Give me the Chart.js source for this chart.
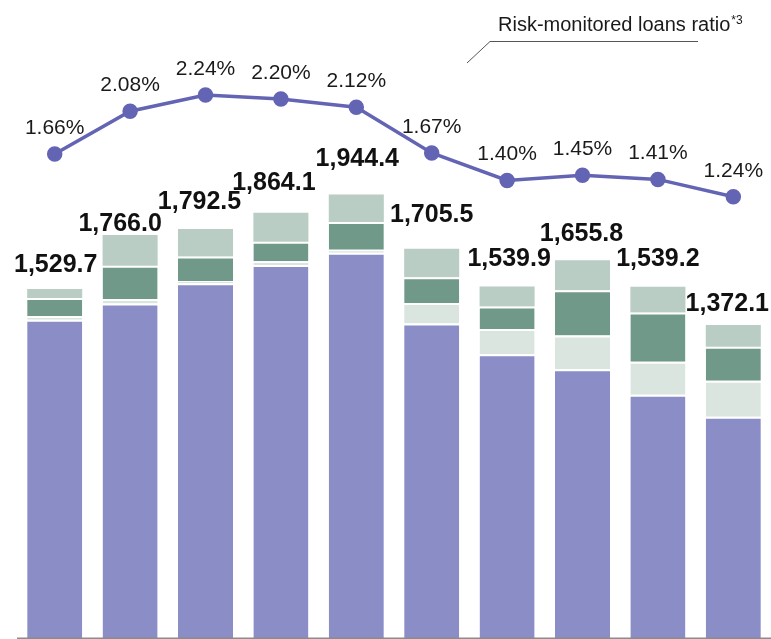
<!DOCTYPE html>
<html>
<head>
<meta charset="utf-8">
<script src="https://cdn.jsdelivr.net/npm/chart.js@4"></script>
<style>
  html, body { margin: 0; padding: 0; background: #fff; }
  #wrap { width: 771px; height: 639px; position: relative; overflow: hidden; }
</style>
</head>
<body>
<div id="wrap"><canvas id="chart" width="771" height="639"></canvas></div>
<script>
// categories (fiscal periods, no visible tick labels)
const periods = ['P1','P2','P3','P4','P5','P6','P7','P8','P9','P10'];

// stacked segments, bottom to top
const segA = [1395, 1466, 1555, 1635, 1688, 1378, 1243, 1178, 1066, 970];
const segB = [15, 20, 10, 16, 14, 90, 111, 148, 145, 157];
const segC = [80, 145, 107, 85, 121, 113, 99, 198, 215, 149];
const segD = [40, 135, 120, 128, 121, 125, 87, 132, 113, 96];

// totals shown above the bars
const totals = [1529.7, 1766.0, 1792.5, 1864.1, 1944.4, 1705.5, 1539.9, 1655.8, 1539.2, 1372.1];

// risk-monitored loans ratio (%)
const ratio = [1.66, 2.08, 2.24, 2.20, 2.12, 1.67, 1.40, 1.45, 1.41, 1.24];

// hand placement of the total labels (as in the original layout)
const totalShiftX = [1, -10, -6, -7, 1, 0, 2, -1, 0, -6];
const totalGap    = [17, 4, 20, 23, 28, 27, 21, 19, 21, 14];

const FONT = '"Liberation Sans", Arial, sans-serif';

const labelPlugin = {
  id: 'labels',
  afterDatasetsDraw(chart) {
    const ctx = chart.ctx;
    const area = chart.chartArea;
    ctx.save();

    // baseline
    ctx.strokeStyle = '#8c8c8c';
    ctx.lineWidth = 1.5;
    ctx.beginPath();
    ctx.moveTo(area.left, area.bottom + 0.25);
    ctx.lineTo(area.right, area.bottom + 0.25);
    ctx.stroke();

    // totals above bars
    const top = chart.getDatasetMeta(3);
    ctx.fillStyle = '#111';
    ctx.textAlign = 'center';
    ctx.textBaseline = 'alphabetic';
    ctx.font = 'bold 25px ' + FONT;
    top.data.forEach((el, i) => {
      const txt = totals[i].toLocaleString('en-US', { minimumFractionDigits: 1 });
      ctx.fillText(txt, el.x + totalShiftX[i], el.y - totalGap[i]);
    });

    // ratio labels
    const line = chart.getDatasetMeta(4);
    ctx.font = '21px ' + FONT;
    ctx.fillStyle = '#1a1a1a';
    line.data.forEach((pt, i) => {
      ctx.fillText(ratio[i].toFixed(2) + '%', pt.x, pt.y - 20);
    });

    // series caption with leader line
    ctx.textAlign = 'left';
    ctx.font = '20px ' + FONT;
    ctx.fillText('Risk-monitored loans ratio', 498, 31);
    const w = ctx.measureText('Risk-monitored loans ratio').width;
    ctx.font = '12px ' + FONT;
    ctx.fillText('*3', 498 + w + 1, 24);
    ctx.strokeStyle = '#555';
    ctx.lineWidth = 1;
    ctx.beginPath();
    ctx.moveTo(698, 41.5);
    ctx.lineTo(490, 41.5);
    ctx.lineTo(467, 63);
    ctx.stroke();

    ctx.restore();
  }
};

const gap = { top: 2, left: 0, right: 0, bottom: 0 };

new Chart(document.getElementById('chart'), {
  data: {
    labels: periods,
    datasets: [
      { type: 'bar', data: segA, backgroundColor: '#8b8dc7', borderColor: '#fff', borderWidth: gap, yAxisID: 'y', order: 2 },
      { type: 'bar', data: segB, backgroundColor: '#dbe5df', borderColor: '#fff', borderWidth: gap, yAxisID: 'y', order: 2 },
      { type: 'bar', data: segC, backgroundColor: '#71998a', borderColor: '#fff', borderWidth: gap, yAxisID: 'y', order: 2 },
      { type: 'bar', data: segD, backgroundColor: '#b9cdc4', borderWidth: 0, yAxisID: 'y', order: 2 },
      {
        type: 'line', data: ratio, yAxisID: 'y1', order: 1,
        borderColor: '#6464b4', borderWidth: 3.5,
        pointRadius: 6, pointBackgroundColor: '#6464b4', pointBorderColor: '#6464b4',
        tension: 0
      }
    ]
  },
  options: {
    responsive: false,
    animation: false,
    layout: { autoPadding: false, padding: { left: 17, right: 0, top: 0, bottom: 1 } },
    datasets: { bar: { barPercentage: 0.73, categoryPercentage: 1 } },
    plugins: { legend: { display: false }, tooltip: { enabled: false } },
    scales: {
      x: { display: false, stacked: true },
      y: { display: false, stacked: true, min: 0, max: 2796 },
      y1: { display: false, min: -3.099, max: 3.174 }
    }
  },
  plugins: [labelPlugin]
});
</script>
</body>
</html>
